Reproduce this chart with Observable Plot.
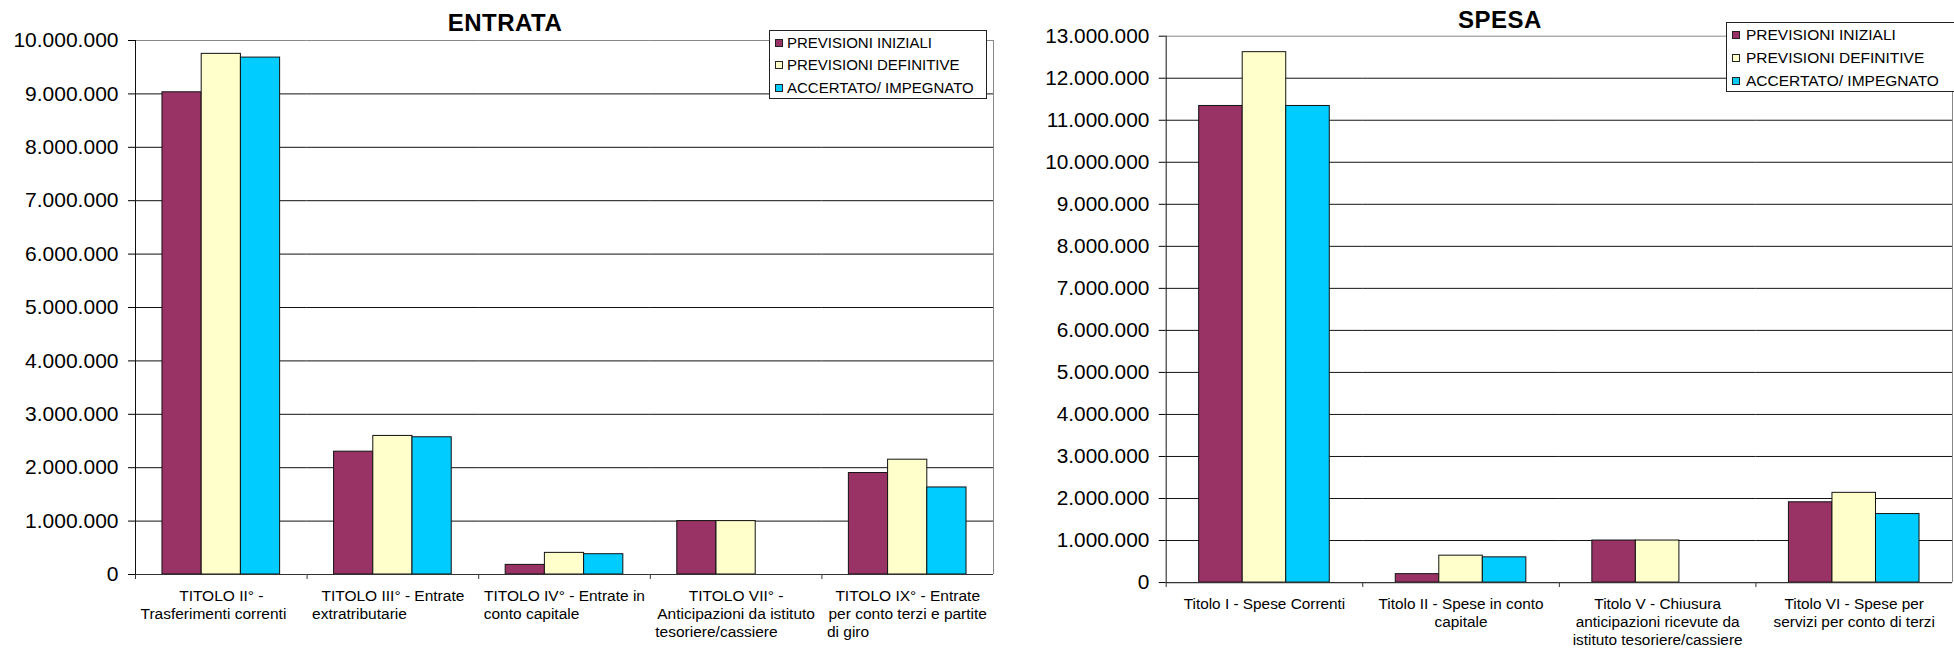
<!DOCTYPE html>
<html>
<head>
<meta charset="utf-8">
<script src="https://cdn.jsdelivr.net/npm/d3@7"></script>
<script src="https://cdn.jsdelivr.net/npm/@observablehq/plot@0.6"></script>
<style>
  html, body { margin: 0; padding: 0; background: #fff; }
  body { width: 1954px; height: 654px; overflow: hidden; position: relative; font-family: "Liberation Sans", Arial, sans-serif; }
  .chart { position: absolute; top: 0; }
  .title { position: absolute; font-weight: bold; font-size: 24px; line-height: 24px; text-align: center; color: #000; letter-spacing: 0.5px; }
  .legend { position: absolute; background: #fff; border: 1px solid #222; box-sizing: border-box; color: #000; }
  .legend .row { position: absolute; white-space: nowrap; }
  .legend .sw { position: absolute; width: 8px; height: 8px; border: 1px solid #222; box-sizing: border-box; }
</style>
</head>
<body>
<script>
// ---- Data ----
const series = ["PREVISIONI INIZIALI", "PREVISIONI DEFINITIVE", "ACCERTATO/ IMPEGNATO"];
const seriesColors = ["#993366", "#FFFFCC", "#00CCFF"];

const entrataCategories = [
  "TITOLO II° -\nTrasferimenti correnti",
  "TITOLO III° - Entrate\nextratributarie",
  "TITOLO IV° - Entrate in\nconto capitale",
  "TITOLO VII° -\nAnticipazioni da istituto\ntesoriere/cassiere",
  "TITOLO IX° - Entrate\nper conto terzi e partite\ndi giro"
];
const entrataPrevIniziali   = [9030000, 2300000, 180000, 1000000, 1900000];
const entrataPrevDefinitive = [9750000, 2595000, 405000, 1000000, 2150000];
const entrataAccertato      = [9680000, 2570000, 380000, 0, 1630000];
const entrataYTicks = [0, 1000000, 2000000, 3000000, 4000000, 5000000, 6000000, 7000000, 8000000, 9000000, 10000000];

const spesaCategories = [
  "Titolo I - Spese Correnti",
  "Titolo II - Spese in conto\ncapitale",
  "Titolo V - Chiusura\nanticipazioni ricevute da\nistituto tesoriere/cassiere",
  "Titolo VI - Spese per\nservizi per conto di terzi"
];
const spesaPrevIniziali   = [11340000, 200000, 1000000, 1910000];
const spesaPrevDefinitive = [12620000, 640000, 1000000, 2135000];
const spesaImpegnato      = [11340000, 600000, 0, 1630000];
const spesaYTicks = [0, 1000000, 2000000, 3000000, 4000000, 5000000, 6000000, 7000000, 8000000, 9000000, 10000000, 11000000, 12000000, 13000000];

// ---- Helpers ----
const itFormat = d3.formatLocale({decimal: ",", thousands: ".", grouping: [3], currency: ["€", ""]}).format(",d");
const FONT = '"Liberation Sans", Arial, sans-serif';
const NBSP = "\u00a0";

function labelMarks(cats, labelSize, lastLeft) {
  const lh = 18 / labelSize;
  if (!lastLeft) {
    return [Plot.text(cats, {fx: d => d, text: d => d, frameAnchor: "bottom", lineAnchor: "top", dy: 14, lineHeight: lh, fontSize: labelSize, fill: "#000"})];
  }
  // Excel-like wrapping: leading lines centred, last line flush left
  const head = d => { const l = d.split("\n"); return l.length > 1 ? l.slice(0, -1).join("\n") : null; };
  const tail = d => { const l = d.split("\n"); return l.slice(0, -1).map(() => NBSP).concat(l[l.length - 1]).join("\n"); };
  return [
    Plot.text(cats.filter(d => head(d)), {fx: d => d, text: head, frameAnchor: "bottom", lineAnchor: "top", dy: 14, lineHeight: lh, fontSize: labelSize, fill: "#000"}),
    Plot.text(cats, {fx: d => d, text: tail, frameAnchor: "bottom-left", textAnchor: "start", lineAnchor: "top", dx: 5, dy: 14, lineHeight: lh, fontSize: labelSize, fill: "#000"})
  ];
}

function makeChart(cfg) {
  const {cats, values, yTicks, width, height, ml, mr, mt, mb, po, labelSize, lastLeft} = cfg;
  const yMax = yTicks[yTicks.length - 1];
  const data = [];
  cats.forEach((c, i) => series.forEach((s, j) => {
    if (values[j][i] > 0) data.push({cat: c, series: s, value: values[j][i]});
  }));
  const fw = (width - ml - mr) / cats.length;
  const step = fw / (series.length + 2 * po);
  const edge = po * step + step / 2; // from first band centre to facet left edge
  const first = cats[0], last = cats[cats.length - 1];
  return Plot.plot({
    width, height,
    marginLeft: ml, marginRight: mr, marginTop: mt, marginBottom: mb,
    style: {fontFamily: FONT, fontSize: "21px", color: "#000", background: "transparent", overflow: "visible"},
    facet: {data, x: "cat"},
    fx: {domain: cats, padding: 0, round: false, axis: null, label: null},
    x: {domain: series, paddingInner: 0, paddingOuter: po, round: false, axis: null},
    y: {domain: [0, yMax], ticks: yTicks, tickFormat: itFormat, tickSize: 7, tickPadding: 10, label: null},
    color: {domain: series, range: seriesColors},
    marks: [
      Plot.ruleY(yTicks.filter(d => d > 0), {stroke: d => d === yMax ? "#888" : "#111", strokeWidth: 1}),
      Plot.barY(data, {x: "series", y: "value", fill: "series", stroke: "#111", strokeWidth: 1}),
      Plot.ruleY([0], {stroke: "#333", strokeWidth: 1.2}),
      // category separator ticks on the x axis
      Plot.ruleX(cats, {fx: d => d, x: () => series[0], dx: -edge, y1: () => 0, y2: () => 0, insetBottom: -5, stroke: "#333"}),
      // value axis line
      Plot.ruleX([first], {fx: d => d, x: () => series[0], dx: -edge, y1: () => 0, y2: () => yMax, stroke: "#111"}),
      // plot-area right border
      Plot.ruleX([last], {fx: d => d, x: () => series[series.length - 1], dx: edge, y1: () => 0, y2: () => yMax, stroke: "#888"}),
      ...labelMarks(cats, labelSize, lastLeft)
    ]
  });
}

function addBlock(opts) {
  const wrap = document.createElement("div");
  wrap.className = "chart";
  wrap.style.left = opts.left + "px";
  const svg = makeChart(opts);
  wrap.appendChild(svg);
  document.body.appendChild(wrap);

  const t = document.createElement("div");
  t.className = "title";
  t.textContent = opts.title;
  t.style.left = (opts.titleCenter - 200) + "px";
  t.style.width = "400px";
  t.style.top = opts.titleTop + "px";
  document.body.appendChild(t);

  const lg = document.createElement("div");
  lg.className = "legend";
  Object.assign(lg.style, {left: opts.legend.left + "px", top: opts.legend.top + "px", width: opts.legend.width + "px", height: opts.legend.height + "px", fontSize: opts.legend.fontSize + "px"});
  series.forEach((s, i) => {
    const sw = document.createElement("div");
    sw.className = "sw";
    sw.style.background = seriesColors[i];
    sw.style.left = opts.legend.swLeft + "px";
    sw.style.top = (opts.legend.rows[i] - 4) + "px";
    lg.appendChild(sw);
    const r = document.createElement("div");
    r.className = "row";
    r.textContent = s;
    r.style.left = opts.legend.textLeft + "px";
    r.style.top = (opts.legend.rows[i] - 9) + "px";
    r.style.lineHeight = "18px";
    lg.appendChild(r);
  });
  document.body.appendChild(lg);
}

addBlock({
  title: "ENTRATA", titleCenter: 505, titleTop: 11,
  left: 0, width: 1000, height: 654, ml: 135, mr: 7, mt: 40, mb: 80, po: 0.688, labelSize: 15.5, lastLeft: true,
  cats: entrataCategories,
  values: [entrataPrevIniziali, entrataPrevDefinitive, entrataAccertato],
  yTicks: entrataYTicks,
  legend: {left: 769, top: 30, width: 218, height: 69, fontSize: 15, swLeft: 5, textLeft: 17, rows: [12, 34, 57]}
});

addBlock({
  title: "SPESA", titleCenter: 1500, titleTop: 8,
  left: 1010, width: 952, height: 654, ml: 157, mr: 2, mt: 36, mb: 67, po: 0.758, labelSize: 15.5, lastLeft: false,
  cats: spesaCategories,
  values: [spesaPrevIniziali, spesaPrevDefinitive, spesaImpegnato],
  yTicks: spesaYTicks,
  legend: {left: 1726, top: 22, width: 245, height: 70, fontSize: 15.5, swLeft: 5, textLeft: 19, rows: [12, 35, 58]}
});
</script>
</body>
</html>
